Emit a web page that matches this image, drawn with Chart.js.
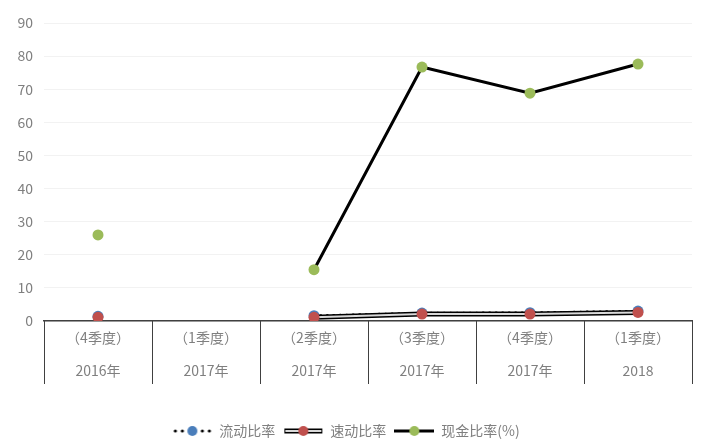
<!DOCTYPE html>
<html>
<head>
<meta charset="utf-8">
<script src="https://cdn.jsdelivr.net/npm/chart.js@4"></script>
<style>
  html, body { margin: 0; padding: 0; background: #fff; }
  #wrap { width: 703px; height: 448px; }
</style>
</head>
<body>
<div id="wrap"><canvas id="ratioChart"></canvas></div>
<script>
// quarters on the x axis, two lines each
const quarters = [
    ['（4季度）', '2016年'],
    ['（1季度）', '2017年'],
    ['（2季度）', '2017年'],
    ['（3季度）', '2017年'],
    ['（4季度）', '2017年'],
    ['（1季度）', '2018']
];
const currentRatio = [1.4, null, 1.6, 2.4, 2.5, 3.0];   // 流动比率
const quickRatio = [1.1, null, 1.1, 2.1, 2.1, 2.6];     // 速动比率
const cashRatio = [26, null, 15.5, 76.7, 68.8, 77.6];    // 现金比率(%)
const yTicks = [0, 10, 20, 30, 40, 50, 60, 70, 80, 90];

const FONT = '"Noto Sans CJK SC", "Noto Sans", sans-serif';
const GREY = '#7f7f7f';

// little legend pictures: line style + marker
function legendIcon(kind, dotColor) {
    const c = document.createElement('canvas');
    c.width = 40; c.height = 12;
    const g = c.getContext('2d');
    const y = 6;
    if (kind === 'dotted') {
        g.fillStyle = '#000';
        [3, 10, 30, 37].forEach(function(x) {
            g.beginPath(); g.arc(x, y, 1.6, 0, Math.PI * 2); g.fill();
        });
    } else if (kind === 'double') {
        g.strokeStyle = '#000'; g.lineWidth = 5;
        g.beginPath(); g.moveTo(1, y); g.lineTo(39, y); g.stroke();
        g.strokeStyle = '#d9d9d9'; g.lineWidth = 2;
        g.beginPath(); g.moveTo(2, y); g.lineTo(38, y); g.stroke();
    } else {
        g.strokeStyle = '#000'; g.lineWidth = 3;
        g.beginPath(); g.moveTo(0, y); g.lineTo(40, y); g.stroke();
    }
    g.fillStyle = dotColor;
    g.beginPath(); g.arc(20, y, 5, 0, Math.PI * 2); g.fill();
    return c;
}

// vertical separators between the quarter labels
const separators = {
    id: 'separators',
    afterDraw(chart) {
        const x = chart.scales.x;
        const ctx = chart.ctx;
        const half = (x.getPixelForValue(1) - x.getPixelForValue(0)) / 2;
        ctx.save();
        ctx.strokeStyle = '#404040';
        ctx.lineWidth = 1;
        ctx.beginPath();
        for (let i = 0; i <= quarters.length; i++) {
            const px = Math.round(x.getPixelForValue(i) - half) + 0.5;
            ctx.moveTo(px, x.top);
            ctx.lineTo(px, x.top + 63);
        }
        ctx.stroke();
        ctx.restore();
    }
};

const ctx = document.getElementById('ratioChart').getContext('2d');
new Chart(ctx, {
    type: 'line',
    data: {
        labels: quarters,
        datasets: [
            {
                label: '流动比率',
                data: currentRatio,
                borderColor: '#000',
                borderWidth: 2.5,
                borderDash: [0.5, 6],
                borderCapStyle: 'round',
                pointRadius: 5.5,
                pointBackgroundColor: '#4a7ebb',
                pointBorderWidth: 0,
                order: 4,
                icon: legendIcon('dotted', '#4a7ebb')
            },
            {
                label: 'quick-outline',
                data: quickRatio,
                borderColor: '#000',
                borderWidth: 5,
                pointRadius: 0,
                order: 3
            },
            {
                label: '速动比率',
                data: quickRatio,
                borderColor: '#d9d9d9',
                borderWidth: 2,
                pointRadius: 5.5,
                pointBackgroundColor: '#c0504d',
                pointBorderWidth: 0,
                order: 2,
                icon: legendIcon('double', '#c0504d')
            },
            {
                label: '现金比率(%)',
                data: cashRatio,
                borderColor: '#000',
                borderWidth: 3,
                pointRadius: 5.5,
                pointBackgroundColor: '#9bbb59',
                pointBorderWidth: 0,
                order: 1,
                icon: legendIcon('solid', '#9bbb59')
            }
        ]
    },
    options: {
        responsive: true,
        maintainAspectRatio: false,
        animation: false,
        spanGaps: false,
        layout: { padding: { top: 23, right: 11, left: 0, bottom: 0 } },
        plugins: {
            tooltip: { enabled: false },
            legend: {
                position: 'bottom',
                labels: {
                    usePointStyle: true,
                    pointStyleWidth: 40,
                    color: GREY,
                    font: { family: FONT, size: 14 },
                    padding: 8,
                    generateLabels(chart) {
                        return chart.data.datasets
                            .map(function(ds, i) {
                                return {
                                    text: ds.label,
                                    pointStyle: ds.icon,
                                    fontColor: GREY,
                                    lineWidth: 0,
                                    datasetIndex: i
                                };
                            })
                            .filter(function(item) { return chart.data.datasets[item.datasetIndex].icon; });
                    }
                }
            }
        },
        scales: {
            x: {
                offset: true,
                grid: { display: false },
                border: { display: true, color: '#404040', width: 1.5 },
                ticks: {
                    color: GREY,
                    font: { family: FONT, size: 14, lineHeight: 2.3 },
                    padding: -7,
                    maxRotation: 0,
                    autoSkip: false
                },
                afterFit(scale) { scale.height = 95; }
            },
            y: {
                min: 0,
                max: 90,
                afterBuildTicks(scale) {
                    scale.ticks = yTicks.map(function(v) { return { value: v }; });
                },
                grid: { color: '#f2f2f2', drawTicks: false },
                border: { display: false },
                ticks: {
                    color: GREY,
                    font: { family: FONT, size: 14 },
                    padding: 11
                },
                afterFit(scale) { scale.width = 44; }
            }
        }
    },
    plugins: [separators]
});
</script>
</body>
</html>
